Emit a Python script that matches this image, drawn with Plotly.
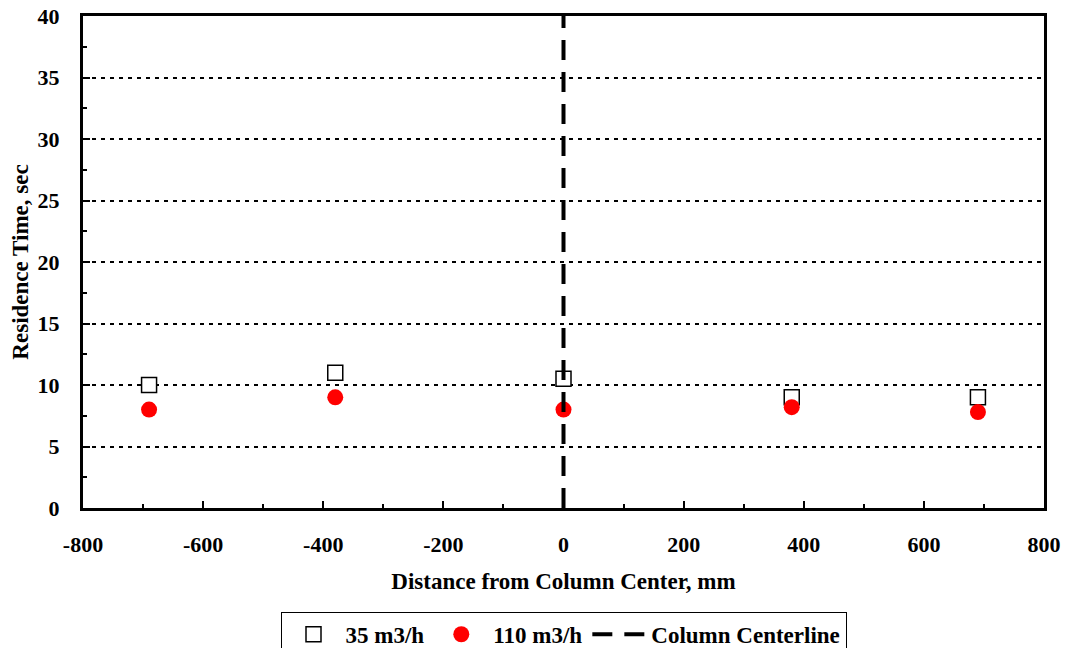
import plotly.graph_objects as go

x_pos = [-690, -380, 0, 380, 690]
rt_35 = [10, 11, 10.5, 9, 9]
rt_110 = [8, 9, 8, 8.2, 7.8]
center_x = [0, 0]
center_y = [0, 40]
x_ticks = [-800, -600, -400, -200, 0, 200, 400, 600, 800]
x_tick_labels = ["-800", "-600", "-400", "-200", "0", "200", "400", "600", "800"]

FAM = "Liberation Serif"
tickfont = dict(family=FAM, size=22, color="black", weight="bold")
titlefont = dict(family=FAM, size=23, color="black")

fig = go.Figure()
fig.add_trace(go.Scatter(x=x_pos, y=rt_35, mode="markers", name="<b>35 m3/h</b>",
                         marker=dict(symbol="square", size=15, color="white",
                                     line=dict(color="black", width=1.5))))
fig.add_trace(go.Scatter(x=x_pos, y=rt_110, mode="markers", name="<b>110 m3/h</b>",
                         marker=dict(symbol="circle", size=16, color="red",
                                     line=dict(color="red", width=0))))
fig.add_trace(go.Scatter(x=center_x, y=center_y, mode="lines", name="<b>Column Centerline</b>",
                         line=dict(color="black", width=4, dash="20px,12px")))

fig.update_layout(
    width=1061, height=640, autosize=False,
    margin=dict(l=75, r=25, t=8, b=140, autoexpand=False),
    plot_bgcolor="white", paper_bgcolor="white",
    font=dict(family=FAM, size=22, color="black"),
    showlegend=True,
    legend=dict(orientation="h", x=0.5, xanchor="center", y=-0.211, yanchor="top",
                bordercolor="black", borderwidth=1,
                font=dict(family=FAM, size=23, color="black"),
                itemwidth=54),
    xaxis=dict(range=[-800, 800], tickmode="array", tickvals=x_ticks, ticktext=x_tick_labels,
               ticks="inside", ticklen=7, automargin=False, ticklabeloverflow="allow",
               tickwidth=1.5, tickcolor="black",
               showline=True, linecolor="black", linewidth=3, mirror=True,
               showgrid=False, zeroline=False,
               tickfont=tickfont, ticklabelstandoff=15,
               minor=dict(ticks="inside", dtick=100, tick0=0, ticklen=4, tickwidth=1.5,
                          tickcolor="black", showgrid=False),
               title=dict(text="<b>Distance from Column Center, mm</b>", standoff=17,
                          font=titlefont)),
    yaxis=dict(range=[0, 40], dtick=5, ticks="inside", ticklen=7, automargin=False,
               ticklabeloverflow="allow",
               tickwidth=1.5, tickcolor="black",
               showline=True, linecolor="black", linewidth=3, mirror=True,
               showgrid=True, gridcolor="black", gridwidth=2, griddash="4px,5px",
               zeroline=False,
               tickfont=tickfont, ticklabelstandoff=16,
               minor=dict(ticks="inside", dtick=2.5, ticklen=4, tickwidth=1.5,
                          tickcolor="black", showgrid=False),
               title=dict(text="<b>Residence Time, sec</b>", standoff=16,
                          font=titlefont)),
)

fig.write_html("out.html")
